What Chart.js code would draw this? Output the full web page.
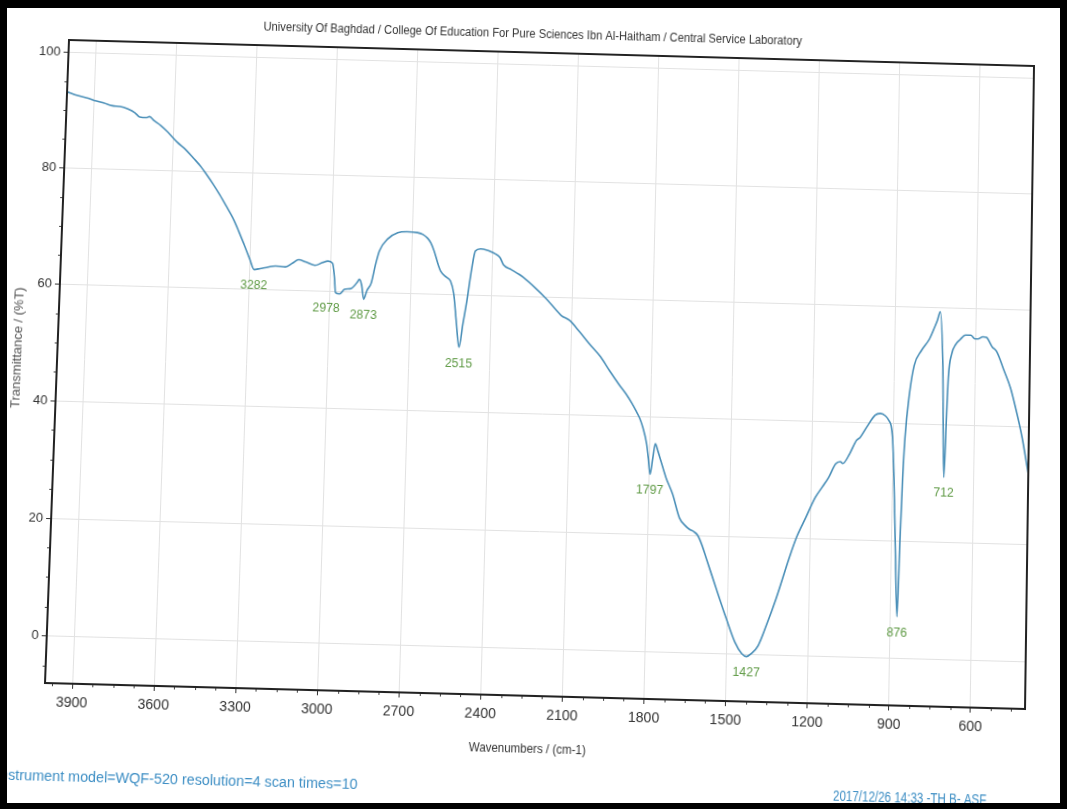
<!DOCTYPE html>
<html>
<head>
<meta charset="utf-8">
<script src="https://cdn.jsdelivr.net/npm/chart.js@4.4.1/dist/chart.umd.min.js"></script>
<style>
  html, body { margin: 0; padding: 0; background: #fff; }
  #page { position: relative; width: 1067px; height: 809px; overflow: hidden; background: #fff; }
  #sheet { position: absolute; left: 0; top: 0; width: 1067px; height: 809px; transform-origin: 0 0; }
  #frame { position: absolute; left: 0; top: 0; width: 1067px; height: 809px; box-sizing: border-box;
           border-style: solid; border-color: #000; border-width: 8px 7px 6px 7px; pointer-events: none; }
</style>
</head>
<body>
<div id="page">
  <div id="sheet"><canvas id="ir-chart" width="1067" height="809"></canvas></div>
  <div id="frame"></div>
</div>
<script>
// FTIR spectrum, wavenumber (cm-1) vs transmittance (%T)
const wavenumbers = [4000, 3960, 3920, 3894, 3860, 3830, 3800, 3771, 3745, 3727, 3700, 3690, 3672, 3647, 3620,
  3584, 3550, 3521, 3495, 3470, 3445, 3419, 3395, 3368, 3345, 3323, 3300, 3282, 3260, 3230, 3204, 3167, 3140,
  3119, 3090, 3057, 3030, 3009, 2992, 2984, 2978, 2963, 2945, 2920, 2900, 2891, 2882, 2873, 2862, 2847, 2833,
  2820, 2790, 2754, 2720, 2681, 2660, 2643, 2630, 2617, 2600, 2591, 2570, 2553, 2540, 2528, 2515, 2503, 2490,
  2476, 2464, 2445, 2420, 2409, 2390, 2372, 2359, 2330, 2300, 2284, 2240, 2196, 2160, 2139, 2108, 2070, 2033,
  1990, 1956, 1920, 1893, 1870, 1855, 1840, 1828, 1812, 1805, 1797, 1788, 1780, 1770, 1758, 1738, 1712, 1685,
  1665, 1647, 1630, 1616, 1600, 1583, 1544, 1504, 1471, 1445, 1427, 1410, 1385, 1356, 1322, 1277, 1250, 1219,
  1185, 1160, 1138, 1112, 1095, 1086, 1061, 1037, 1024, 1000, 969, 950, 931, 918, 910, 904, 896, 886, 876, 870,
  864, 858, 844, 828, 803, 773, 755, 745, 735, 722, 712, 706, 701, 690, 675, 660, 640, 620, 605, 594, 575, 562,
  540, 523, 495, 470, 454, 425, 400];
const transmittance = [93.2, 92.6, 92.2, 91.8, 91.4, 91.0, 90.9, 90.5, 89.9, 89.2, 89.1, 89.3, 88.6, 87.8, 86.7,
  85.0, 83.7, 82.3, 81.0, 79.5, 77.9, 76.1, 74.3, 72.2, 70.0, 67.7, 65.2, 63.4, 63.6, 63.9, 64.1, 64.0, 64.7,
  65.3, 64.9, 64.4, 64.9, 65.2, 64.8, 62.5, 59.8, 59.6, 60.4, 60.6, 61.6, 62.2, 61.2, 58.8, 60.3, 61.6, 64.8,
  67.2, 69.3, 70.4, 70.6, 70.5, 70.2, 69.6, 68.8, 67.4, 65.0, 64.0, 63.0, 62.3, 60.2, 55.5, 51.0, 55.0, 59.2,
  64.5, 67.6, 68.0, 67.8, 67.6, 67.2, 66.6, 65.4, 64.6, 63.8, 63.3, 61.6, 59.7, 57.9, 56.9, 56.1, 54.2, 52.2,
  50.0, 47.7, 45.4, 43.8, 42.2, 41.0, 39.7, 38.2, 35.3, 33.0, 30.2, 33.0, 35.4, 34.2, 32.5, 29.7, 26.9, 22.9,
  21.7, 21.0, 20.6, 20.0, 18.4, 16.2, 11.1, 6.0, 2.1, 0.2, -0.3, 0.2, 1.6, 5.1, 9.7, 16.6, 20.3, 23.5,
  27.0, 28.8, 30.4, 32.8, 33.2, 32.9, 34.6, 36.9, 37.4, 39.2, 41.3, 41.6, 41.2, 40.4, 39.6, 37.6, 30.8, 18.0, 7.1, 20.0,
  30.5, 37.4, 45.1, 50.0, 52.5, 54.6, 56.6, 57.8, 59.3, 50.0, 31.0, 40.7, 48.1, 52.1, 53.8, 54.6, 55.4, 55.4, 54.8, 54.8, 55.2, 55.1,
  53.5, 52.7, 49.5, 46.5, 43.8, 38.2, 31.9];

// labelled absorption bands
const peakLabels = [3282, 2978, 2873, 2515, 1797, 1427, 876, 712];

const xTicks = [3900, 3600, 3300, 3000, 2700, 2400, 2100, 1800, 1500, 1200, 900, 600];
const xTickLabels = ['3900', '3600', '3300', '3000', '2700', '2400', '2100', '1800', '1500', '1200', '900', '600'];
const yTicks = [0, 20, 40, 60, 80, 100];
const yTickLabels = ['0', '20', '40', '60', '80', '100'];

const titleText = 'University Of Baghdad / College Of Education For Pure Sciences Ibn Al-Haitham / Central Service Laboratory';
const xTitle = 'Wavenumbers / (cm-1)';
const yTitle = 'Transmittance / (%T)';
const infoText = 'Instrument model=WQF-520 resolution=4 scan times=10';
const stampText = '2017/12/26 14:33 -TH B- ASF';

const FONT = '"Liberation Sans", Arial, sans-serif';
const LINE_BLUE = '#4a8fb8';
const PEAK_GREEN = '#5f9a45';
const INFO_BLUE = '#3d8ec4';

// plot box inside the canvas
const AREA = { left: 57, top: 53, right: 1030, bottom: 696 };

// the sheet was scanned a little askew: map the plot box onto the skewed box
const skewedCorners = [[69, 40], [1034, 66], [1025, 709], [45, 683]];

function solveLinear(A, b) {
  const n = b.length;
  const M = A.map((row, i) => row.concat([b[i]]));
  for (let col = 0; col < n; col++) {
    let piv = col;
    for (let r = col + 1; r < n; r++) if (Math.abs(M[r][col]) > Math.abs(M[piv][col])) piv = r;
    [M[col], M[piv]] = [M[piv], M[col]];
    for (let r = 0; r < n; r++) {
      if (r === col) continue;
      const f = M[r][col] / M[col][col];
      for (let k = col; k <= n; k++) M[r][k] -= f * M[col][k];
    }
  }
  return M.map((row, i) => row[n] / row[i]);
}

function homography(src, dst) {
  const A = [], b = [];
  for (let i = 0; i < 4; i++) {
    const [x, y] = src[i], [X, Y] = dst[i];
    A.push([x, y, 1, 0, 0, 0, -x * X, -y * X]); b.push(X);
    A.push([0, 0, 0, x, y, 1, -x * Y, -y * Y]); b.push(Y);
  }
  const [a, bb, c, d, e, f, g, h] = solveLinear(A, b);
  return `matrix3d(${a},${d},0,${g},${bb},${e},0,${h},0,0,1,0,${c},${f},0,1)`;
}

document.getElementById('sheet').style.transform = homography(
  [[AREA.left, AREA.top], [AREA.right, AREA.top], [AREA.right, AREA.bottom], [AREA.left, AREA.bottom]],
  skewedCorners
);

// draw text squeezed to a given width (the plotter output uses a condensed face)
function fitText(c, text, x, y, width) {
  const w = c.measureText(text).width;
  c.save();
  c.translate(x, y);
  c.scale(Math.min(1, width / w), 1);
  c.fillText(text, 0, 0);
  c.restore();
}

const decorations = {
  id: 'decorations',
  afterDraw(chart) {
    const c = chart.ctx;
    const a = chart.chartArea;
    const xs = chart.scales.x, ys = chart.scales.y;
    c.save();

    // minor ticks
    c.strokeStyle = '#444';
    c.lineWidth = 1;
    c.beginPath();
    for (let v = 3975; v > 400; v -= 75) {
      if (v % 300 === 0) continue;
      const px = Math.round(xs.getPixelForValue(v)) + 0.5;
      c.moveTo(px, a.bottom); c.lineTo(px, a.bottom + 3);
    }
    for (let v = -5; v <= 100; v += 5) {
      if (v % 20 === 0) continue;
      const py = Math.round(ys.getPixelForValue(v)) + 0.5;
      c.moveTo(a.left, py); c.lineTo(a.left - 3, py);
    }
    c.stroke();

    // plot frame
    c.strokeStyle = '#222';
    c.lineWidth = 2;
    c.strokeRect(a.left, a.top, a.right - a.left, a.bottom - a.top);

    // peak labels
    c.fillStyle = PEAK_GREEN;
    c.font = '13px ' + FONT;
    c.textAlign = 'center';
    c.textBaseline = 'middle';
    peakLabels.forEach(w => {
      const i = wavenumbers.indexOf(w);
      const label = String(w);
      const px = xs.getPixelForValue(w) + (w === 2978 ? -9 : 0);
      const py = ys.getPixelForValue(transmittance[i]) + 16;
      fitText(c, label, px, py, 6.8 * label.length);
    });

    // header and axis titles
    c.fillStyle = '#333';
    c.font = '12px ' + FONT;
    fitText(c, titleText, 524, 35, 543);
    c.font = '13px ' + FONT;
    fitText(c, xTitle, 537, 748, 116);
    c.save();
    c.translate(17.5, 364);
    c.rotate(-Math.PI / 2);
    c.fillStyle = '#555';
    fitText(c, yTitle, 0, 0, 122);
    c.restore();

    // instrument footer
    c.fillStyle = INFO_BLUE;
    c.font = '14px ' + FONT;
    c.textAlign = 'left';
    const full = c.measureText(infoText).width;
    const head = c.measureText('In').width;
    const k = 346 / (full - head);
    c.save();
    c.translate(24 - head * k, 788);
    c.scale(k, 1);
    c.fillText(infoText, 0, 0);
    c.restore();
    c.textAlign = 'center';
    fitText(c, stampText, 917, 787, 152);

    c.restore();
  }
};

const points = wavenumbers.map((w, i) => ({ x: w, y: transmittance[i] }));

new Chart(document.getElementById('ir-chart').getContext('2d'), {
  type: 'line',
  data: {
    datasets: [{
      data: points,
      borderColor: LINE_BLUE,
      borderWidth: 1.6,
      pointRadius: 0,
      fill: false,
      cubicInterpolationMode: 'monotone'
    }]
  },
  options: {
    responsive: false,
    animation: false,
    layout: { padding: { left: 0, top: AREA.top, right: 1067 - AREA.right, bottom: 809 - AREA.bottom - 40 } },
    plugins: {
      legend: { display: false },
      tooltip: { enabled: false },
      title: { display: false }
    },
    scales: {
      x: {
        type: 'linear',
        reverse: true,
        min: 400,
        max: 4000,
        afterBuildTicks: s => { s.ticks = xTicks.map(v => ({ value: v })); },
        afterFit: s => { s.height = 40; },
        border: { display: false },
        grid: { color: '#e2e2e2', tickColor: '#333', tickLength: 5 },
        ticks: {
          autoSkip: false,
          maxRotation: 0,
          padding: 6,
          color: '#333',
          font: { family: FONT, size: 14 },
          callback: (v, i) => xTickLabels[i]
        }
      },
      y: {
        min: -7.9,
        max: 102.2,
        afterBuildTicks: s => { s.ticks = yTicks.map(v => ({ value: v })); },
        afterFit: s => { s.width = AREA.left; },
        border: { display: false },
        grid: { color: '#e2e2e2', tickColor: '#333', tickLength: 5 },
        ticks: {
          autoSkip: false,
          padding: 3,
          color: '#333',
          font: { family: FONT, size: 13 },
          callback: (v, i) => yTickLabels[i]
        }
      }
    }
  },
  plugins: [decorations]
});
</script>
</body>
</html>
